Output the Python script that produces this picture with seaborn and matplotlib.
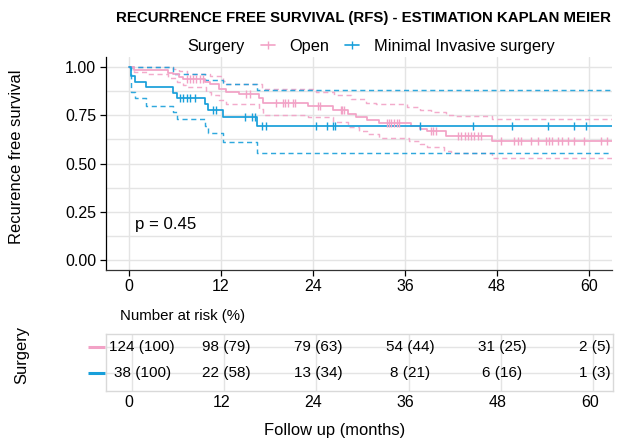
import numpy as np
import pandas as pd
import matplotlib
matplotlib.use("Agg")
import matplotlib.pyplot as plt
from matplotlib.lines import Line2D
import seaborn as sns

# ---------------- data ----------------
groups = ["Open", "Minimal Invasive surgery"]
group_colors = ["#F2A2C6", "#189FDA"]

# Kaplan-Meier estimate, Open surgery (step change times, survival after the step)
open_time = [0, 0.6, 5.1, 5.7, 6.5, 7.0, 9.9, 10.6, 11.8, 12.7, 14.3, 17.0, 17.5,
             23.3, 26.6, 28.5, 29.6, 31.1, 32.6, 36.8, 38.0, 38.9, 41.3, 47.4, 66]
open_surv = [1.0, 0.984, 0.969, 0.962, 0.948, 0.936, 0.922, 0.910, 0.887, 0.872, 0.861, 0.841, 0.815,
             0.800, 0.778, 0.757, 0.743, 0.726, 0.708, 0.696, 0.679, 0.667, 0.644, 0.618, 0.618]
open_upper_time = [0, 5.7, 6.5, 7.5, 10.6, 12.2, 12.7, 17.3, 24.4, 26.8, 28.9, 30.9, 32.2,
                   36.3, 38.0, 39.4, 41.3, 42.2, 47.4, 66]
open_upper = [1.0, 0.990, 0.980, 0.965, 0.955, 0.930, 0.910, 0.885, 0.870, 0.853, 0.835, 0.813, 0.806,
              0.795, 0.778, 0.766, 0.754, 0.748, 0.731, 0.731]
open_lower_time = [0, 0.6, 2.3, 5.1, 6.2, 7.0, 7.4, 10.1, 10.7, 11.8, 12.7, 17.0, 17.5, 23.3,
                   26.6, 28.5, 30.0, 31.1, 32.6, 36.5, 37.9, 38.9, 41.1, 42.0, 47.4, 66]
open_lower = [1.0, 0.975, 0.965, 0.945, 0.922, 0.905, 0.896, 0.870, 0.853, 0.830, 0.806, 0.783, 0.754, 0.740,
              0.714, 0.688, 0.670, 0.653, 0.632, 0.618, 0.601, 0.587, 0.566, 0.557, 0.528, 0.528]
open_censor = [7.6, 8.0, 8.4, 8.8, 9.2, 9.6, 15.3, 15.8, 19.2, 20.1, 20.4, 20.7, 21.4, 21.6,
               24.7, 24.9, 27.6, 27.8, 28.0, 33.6, 33.9, 34.2, 34.5, 34.9, 35.2, 39.4, 39.7, 40.0,
               42.9, 43.3, 43.8, 44.2, 44.6, 45.0, 45.5, 45.9, 48.5, 50.2, 50.7, 51.1, 52.4, 53.3,
               54.4, 54.8, 55.2, 55.9, 56.5, 57.2, 58.1, 59.4, 61.5, 62.4]

# Kaplan-Meier estimate, Minimal invasive surgery
mis_time = [0, 0.3, 0.74, 2.2, 5.8, 6.3, 9.9, 10.3, 12.2, 16.7, 66]
mis_surv = [1.0, 0.955, 0.921, 0.895, 0.868, 0.842, 0.810, 0.777, 0.742, 0.696, 0.696]
mis_upper_time = [0, 5.8, 9.9, 12.2, 16.7, 66]
mis_upper = [1.0, 0.962, 0.934, 0.910, 0.880, 0.880]
mis_lower_time = [0, 0.3, 0.74, 2.2, 5.8, 6.3, 9.9, 10.3, 12.2, 16.7, 66]
mis_lower = [1.0, 0.870, 0.841, 0.797, 0.766, 0.731, 0.696, 0.656, 0.613, 0.554, 0.554]
mis_censor = [6.6, 7.0, 7.5, 7.9, 8.6, 11.0, 11.4, 15.1, 16.0, 16.4, 17.3, 17.9, 24.4, 25.8,
              26.6, 26.9, 37.9, 44.9, 49.9, 54.6, 58.0, 59.6]

p_value_text = "p = 0.45"

risk_times = [0, 12, 24, 36, 48, 60]
risk_open = ["124 (100)", "98 (79)", "79 (63)", "54 (44)", "31 (25)", "2 (5)"]
risk_mis = ["38 (100)", "22 (58)", "13 (34)", "8 (21)", "6 (16)", "1 (3)"]

y_ticks = [0.0, 0.25, 0.50, 0.75, 1.00]
y_tick_labels = ["0.00", "0.25", "0.50", "0.75", "1.00"]

title = "RECURRENCE FREE SURVIVAL (RFS) - ESTIMATION KAPLAN MEIER"

# ---------------- style ----------------
sns.set_theme(style="white")
FONT = ["Liberation Sans", "DejaVu Sans"]
plt.rcParams["font.family"] = FONT
plt.rcParams["text.color"] = "black"

W, H = 627, 443
fig = plt.figure(figsize=(W / 100, H / 100), dpi=100)

def fx(px):
    return px / W

def fy(py):
    return 1 - py / H

GRID = "#E4E4E4"
TICK_FS = 11.5

# ---------------- main KM axes ----------------
ax = fig.add_axes([fx(106), fy(269.6), fx(506), 212.2 / H])
ax.set_xlim(-3, 63)
ax.set_ylim(-0.05, 1.05)

for yv in np.arange(0, 1.01, 0.125):
    ax.axhline(yv, color=GRID, lw=1.0, zorder=0)
for xv in risk_times:
    ax.axvline(xv, color=GRID, lw=1.0, zorder=0)

curves = [
    (open_time, open_surv, open_upper_time, open_upper, open_lower_time, open_lower, open_censor, group_colors[0]),
    (mis_time, mis_surv, mis_upper_time, mis_upper, mis_lower_time, mis_lower, mis_censor, group_colors[1]),
]

def step_at(tt, ss, x):
    tt = np.asarray(tt); ss = np.asarray(ss)
    idx = np.searchsorted(tt, x, side="right") - 1
    return ss[idx]

for (t, s, tu, su, tl, sl, cens, col) in curves:
    # confidence band limits (dashed)
    for tb, sb in ((tu, su), (tl, sl)):
        sns.lineplot(x=tb, y=sb, ax=ax, color=col, lw=1.05, estimator=None,
                     drawstyle="steps-post", linestyle=(0, (3.5, 2.5)), alpha=0.9, zorder=2)
    # estimate (solid)
    sns.lineplot(x=t, y=s, ax=ax, color=col, lw=1.25, estimator=None,
                 drawstyle="steps-post", zorder=3)
    # censoring marks
    cy = step_at(t, s, np.asarray(cens))
    sns.scatterplot(x=cens, y=cy, ax=ax, marker="|", s=34, color=col,
                    linewidth=1.0, zorder=4)

ax.text(0.8, 0.182, p_value_text, fontsize=12.1, va="center", ha="left")

ax.set_yticks(y_ticks)
ax.set_yticklabels(y_tick_labels, fontsize=TICK_FS)
ax.set_xticks(risk_times)
ax.set_xticklabels([str(v) for v in risk_times], fontsize=TICK_FS)
ax.tick_params(axis="both", which="major", length=4, width=0.9, color="black",
               pad=3, labelcolor="black", left=True, bottom=True)
for side in ("top", "right"):
    ax.spines[side].set_visible(False)
ax.spines["left"].set_color("black")
ax.spines["left"].set_linewidth(0.9)
ax.spines["bottom"].set_color("#333333")
ax.spines["bottom"].set_linewidth(0.9)
ax.set_xlabel("")
ax.set_ylabel("")

fig.text(fx(17), fy(157), "Recurence free survival", rotation=90, fontsize=11.9,
         ha="center", va="center")
fig.text(fx(364), fy(18), title, fontsize=10.8, fontweight="bold", ha="center", va="center")

# legend
fig.text(fx(245), fy(46), "Surgery", fontsize=11.8, ha="right", va="center")
handles = [Line2D([], [], color=c, lw=1.2, marker="|", markersize=6, markeredgewidth=1.0)
           for c in group_colors]
fig.legend(handles, groups, loc="center left", bbox_to_anchor=(fx(261), fy(46)),
           ncol=2, frameon=False, fontsize=11.8, handlelength=0.85, handletextpad=0.9,
           columnspacing=0.95, borderpad=0, borderaxespad=0)

# ---------------- risk table ----------------
tab = fig.add_axes([fx(106), fy(391), fx(507), 57 / H])
tab.set_xlim(-3, 63)
tab.set_ylim(0.3, 2.5)
for xv in risk_times:
    tab.axvline(xv + 0.4, color=GRID, lw=1.0, zorder=0)
for yv in (1, 2):
    tab.axhline(yv, color=GRID, lw=1.0, zorder=0)

rows = [(2, risk_open, group_colors[0]), (1, risk_mis, group_colors[1])]
for yrow, labels, col in rows:
    for i, (tv, lab) in enumerate(zip(risk_times, labels)):
        shift = 1.7 if i == 0 else 0.6
        tab.text(tv + shift, yrow, lab, fontsize=11.0, ha="center", va="center")
    tab.plot([-0.035, -0.002], [yrow, yrow], transform=tab.get_yaxis_transform(),
             color=col, lw=2.2, clip_on=False, solid_capstyle="butt")

tab.set_yticks([])
tab.set_xticks(risk_times)
tab.set_xticklabels([str(v) for v in risk_times], fontsize=TICK_FS)
tab.tick_params(axis="x", length=0, pad=3, labelcolor="black")
for side in tab.spines.values():
    side.set_color("#D9D9D9")
    side.set_linewidth(1.0)

fig.text(fx(120), fy(316), "Number at risk (%)", fontsize=10.8, ha="left", va="center")
fig.text(fx(22), fy(355), "Surgery", rotation=90, fontsize=11.9, ha="center", va="center")
fig.text(fx(335), fy(431), "Follow up (months)", fontsize=11.9, ha="center", va="center")

fig.savefig("out.png", dpi=100)
